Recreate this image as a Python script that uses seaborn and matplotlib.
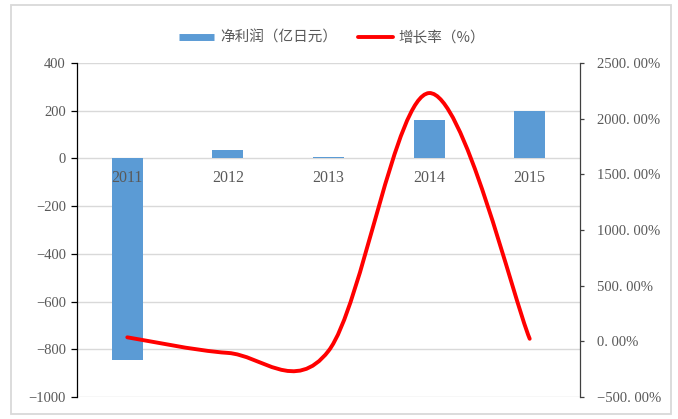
import numpy as np
import pandas as pd
import matplotlib
matplotlib.use("Agg")
import matplotlib.pyplot as plt
import seaborn as sns
from matplotlib.path import Path
from matplotlib.patches import PathPatch, Rectangle
from matplotlib.lines import Line2D
from matplotlib.ticker import FuncFormatter

# Data
years = ["2011", "2012", "2013", "2014", "2015"]
net_profit = [-845, 35, 6, 162, 198]          # 亿日元
growth_pct = [36, -104, -86, 2230, 23]        # %

bar_label = "净利润（亿日元）"
line_label = "增长率（%）"

sns.set_style("white")
plt.rcParams["font.family"] = ["Liberation Serif", "Noto Sans CJK SC", "DejaVu Sans"]

BLUE = "#5B9BD5"
RED = "#FF0000"
GRID = "#D9D9D9"
TXT = "#595959"

fig = plt.figure(figsize=(6.78, 4.19), dpi=100)
W, H = 678, 419
ax1 = fig.add_axes([77 / W, 1 - 397 / H, (580 - 77) / W, (397 - 63) / H])

df = pd.DataFrame({"year": years, "profit": net_profit})
sns.barplot(data=df, x="year", y="profit", color=BLUE, width=0.31,
            saturation=1, linewidth=0, ax=ax1, zorder=2)
ax1.set_xlim(-0.5, len(years) - 0.5)
ax1.set_ylim(-1000, 400)
ax1.set_yticks(np.arange(-1000, 401, 200))
ax1.yaxis.set_major_formatter(FuncFormatter(lambda v, p: f"{int(v)}".replace("-", "\u2212")))
ax1.set_xlabel("")
ax1.set_ylabel("")
ax1.set_xticks([])
ax1.grid(axis="y", color=GRID, lw=1, zorder=0)
ax1.set_axisbelow(True)
for s in ["top", "bottom", "right"]:
    ax1.spines[s].set_visible(False)
ax1.spines["left"].set_color("#000000")
ax1.spines["left"].set_linewidth(0.9)
ax1.tick_params(axis="y", direction="out", length=4, width=0.9, color="#000000",
                labelsize=10.5, labelcolor=TXT, left=True, pad=4)

# Category labels sit just below the zero line
for i, yr in enumerate(years):
    ax1.annotate(yr, xy=(i, 0), xytext=(0, -8), textcoords="offset points",
                 ha="center", va="top", fontsize=11.5, color=TXT, zorder=5)

# Growth rate on the secondary axis, drawn as a smoothed Bezier curve
ax2 = ax1.twinx()
ax2.set_ylim(-500, 2500)
ax2.set_yticks(np.arange(-500, 2501, 500))
ax2.yaxis.set_major_formatter(FuncFormatter(lambda v, p: f"{v:.2f}%".replace(".", ". ").replace("-", "\u2212")))
for s in ["top", "bottom", "left"]:
    ax2.spines[s].set_visible(False)
ax2.spines["right"].set_color("#404040")
ax2.spines["right"].set_linewidth(0.9)
ax2.tick_params(axis="y", direction="out", length=3, width=0.9, color="#404040",
                labelsize=10.5, labelcolor=TXT, right=True, pad=9)
ax2.grid(False)

xs = np.arange(len(years), dtype=float)
ys = np.array(growth_pct, dtype=float)
n = len(xs)
verts = [(xs[0], ys[0])]
codes = [Path.MOVETO]
for i in range(n - 1):
    ip = i - 1 if i > 0 else i
    inx = i + 2 if i + 2 < n else i + 1
    c1 = (xs[i] + (xs[i + 1] - xs[ip]) / 6, ys[i] + (ys[i + 1] - ys[ip]) / 6)
    c2 = (xs[i + 1] - (xs[inx] - xs[i]) / 6, ys[i + 1] - (ys[inx] - ys[i]) / 6)
    verts += [c1, c2, (xs[i + 1], ys[i + 1])]
    codes += [Path.CURVE4, Path.CURVE4, Path.CURVE4]
ax2.add_patch(PathPatch(Path(verts, codes), fill=False, ec=RED, lw=2.8,
                        capstyle="round", joinstyle="round", zorder=3))

# Legend
handles = [Line2D([], [], color=BLUE, lw=5, solid_capstyle="butt"),
           Line2D([], [], color=RED, lw=2.8, solid_capstyle="round")]
fig.legend(handles, [bar_label, line_label], loc="center",
           bbox_to_anchor=(0.490, 1 - 38 / H), ncol=2, frameon=False,
           handlelength=2.4, handletextpad=0.4, columnspacing=1.4,
           prop={"family": ["Noto Sans CJK SC", "DejaVu Sans"], "size": 10.5},
           labelcolor=TXT)

# Outer chart border
fig.patches.append(Rectangle((11 / W, 5 / H), 660 / W, 409 / H, transform=fig.transFigure,
                             fill=False, ec=GRID, lw=1.3))

fig.savefig("out.png", dpi=100)
